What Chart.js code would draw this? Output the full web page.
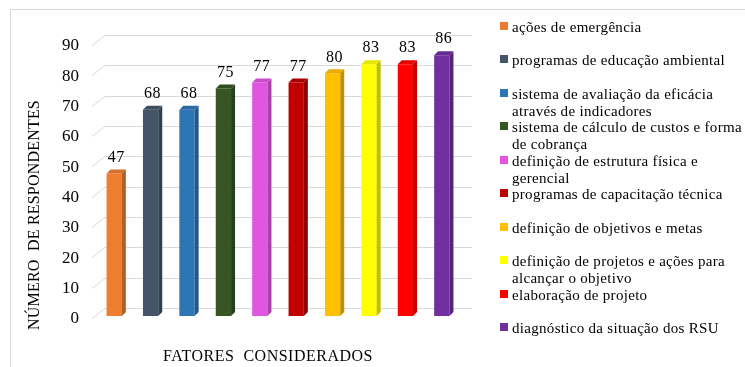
<!DOCTYPE html>
<html>
<head>
<meta charset="utf-8">
<script src="https://cdn.jsdelivr.net/npm/chart.js@4"></script>
<style>
  html, body { margin: 0; padding: 0; background: #fff; }
  #wrap { position: relative; width: 745px; height: 367px; overflow: hidden; }
  #frame { position: absolute; left: 10px; top: 9px; width: 760px; height: 400px; border: 1px solid #d9d9d9; }
  #chart { position: absolute; left: 0; top: 0; }
  #legend { position: absolute; left: 500px; top: 0; font-family: "Liberation Serif", "Times New Roman", serif; font-size: 15px; letter-spacing: 0.3px; color: #000; }
  .item { position: absolute; left: 0; white-space: nowrap; line-height: 17px; }
  .item .box { position: absolute; left: 0; top: 3px; width: 8px; height: 8px; }
  .item .txt { position: absolute; left: 12px; top: 0; }
</style>
</head>
<body>
<div id="wrap">
  <div id="frame"></div>
  <canvas id="chart" width="745" height="367"></canvas>
  <div id="legend"></div>
</div>
<script>
const factors = [
    ['ações de emergência'],
    ['programas de educação ambiental'],
    ['sistema de avaliação da eficácia', 'através de indicadores'],
    ['sistema de cálculo de custos e forma', 'de cobrança'],
    ['definição de estrutura física e', 'gerencial'],
    ['programas de capacitação técnica'],
    ['definição de objetivos e metas'],
    ['definição de projetos e ações para', 'alcançar o objetivo'],
    ['elaboração de projeto'],
    ['diagnóstico da situação dos RSU']
];
const respondents = [47, 68, 68, 75, 77, 77, 80, 83, 83, 86];
const barColors = ['#ED7D31', '#44546A', '#2E75B6', '#375623', '#E056E0',
                   '#C00000', '#FFC000', '#FFFF00', '#FF0000', '#7030A0'];
const yTicks = [0, 10, 20, 30, 40, 50, 60, 70, 80, 90];

const serif = '"Liberation Serif", "Times New Roman", serif';
const depth = 4;

function shade(hex, f) {
    const n = parseInt(hex.slice(1), 16);
    const r = Math.round(((n >> 16) & 255) * f);
    const g = Math.round(((n >> 8) & 255) * f);
    const b = Math.round((n & 255) * f);
    return 'rgb(' + r + ',' + g + ',' + b + ')';
}

// back-wall gridlines (3D look)
const wallGrid = {
    id: 'wallGrid',
    beforeDatasetsDraw(chart) {
        const { ctx, chartArea } = chart;
        const y = chart.scales.y;
        ctx.save();
        ctx.strokeStyle = '#d9d9d9';
        ctx.lineWidth = 1;
        yTicks.forEach(v => {
            const p = Math.round(y.getPixelForValue(v));
            ctx.beginPath();
            ctx.moveTo(chartArea.left - 4, p + 2.5);
            ctx.lineTo(chartArea.left + 9, p - 7.5);
            ctx.lineTo(chartArea.right + 12, p - 7.5);
            ctx.stroke();
        });
        ctx.restore();
    }
};

// side/top faces and value labels
const bars3d = {
    id: 'bars3d',
    afterDatasetsDraw(chart) {
        const { ctx } = chart;
        const meta = chart.getDatasetMeta(0);
        ctx.save();
        meta.data.forEach((bar, i) => {
            const c = barColors[i];
            const l = bar.x - bar.width / 2, r = bar.x + bar.width / 2;
            ctx.fillStyle = shade(c, 0.75);
            ctx.beginPath();
            ctx.moveTo(r, bar.y);
            ctx.lineTo(r + depth, bar.y - depth);
            ctx.lineTo(r + depth, bar.base - depth);
            ctx.lineTo(r, bar.base);
            ctx.closePath();
            ctx.fill();
            ctx.fillStyle = shade(c, 0.9);
            ctx.beginPath();
            ctx.moveTo(l, bar.y);
            ctx.lineTo(l + depth, bar.y - depth);
            ctx.lineTo(r + depth, bar.y - depth);
            ctx.lineTo(r, bar.y);
            ctx.closePath();
            ctx.fill();
            ctx.fillStyle = '#000';
            ctx.font = '16px ' + serif;
            ctx.letterSpacing = '0.5px';
            ctx.textAlign = 'center';
            ctx.textBaseline = 'bottom';
            ctx.fillText(respondents[i], bar.x + depth / 2, bar.y - 8);
        });
        ctx.restore();
    }
};

// axis titles
const axisTitles = {
    id: 'axisTitles',
    afterDraw(chart) {
        const { ctx } = chart;
        ctx.save();
        ctx.fillStyle = '#000';
        ctx.font = '16px ' + serif;
        ctx.letterSpacing = '0.5px';
        ctx.textAlign = 'center';
        ctx.textBaseline = 'middle';
        ctx.fillText('FATORES  CONSIDERADOS', 268, 357);
        ctx.letterSpacing = '0.2px';
        ctx.translate(35, 215);
        ctx.rotate(-Math.PI / 2);
        ctx.fillText('NÚMERO  DE RESPONDENTES', 0, 0);
        ctx.restore();
    }
};

new Chart(document.getElementById('chart'), {
    type: 'bar',
    data: {
        labels: factors,
        datasets: [{
            data: respondents,
            backgroundColor: barColors,
            borderWidth: 0,
            barPercentage: 0.42,
            categoryPercentage: 1
        }]
    },
    options: {
        responsive: false,
        animation: false,
        layout: { padding: { top: 43, right: 285, left: 0, bottom: 0 } },
        plugins: { legend: { display: false }, tooltip: { enabled: false } },
        scales: {
            x: {
                grid: { display: false },
                border: { display: false },
                ticks: { display: false },
                afterFit(s) { s.height = 51; }
            },
            y: {
                min: 0,
                max: 90,
                grid: { display: false },
                border: { display: false },
                ticks: {
                    stepSize: 10,
                    padding: 9,
                    labelOffset: 3,
                    color: '#000',
                    font: { family: serif, size: 17 }
                },
                afterFit(s) { s.width = 96; }
            }
        }
    },
    plugins: [wallGrid, bars3d, axisTitles]
});

// legend (multi-line labels)
const legend = document.getElementById('legend');
factors.forEach((lines, i) => {
    const item = document.createElement('div');
    item.className = 'item';
    item.style.top = (18.5 + i * 33.5) + 'px';
    const box = document.createElement('span');
    box.className = 'box';
    box.style.background = barColors[i];
    const txt = document.createElement('span');
    txt.className = 'txt';
    txt.innerHTML = lines.join('<br>');
    item.appendChild(box);
    item.appendChild(txt);
    legend.appendChild(item);
});
</script>
</body>
</html>
